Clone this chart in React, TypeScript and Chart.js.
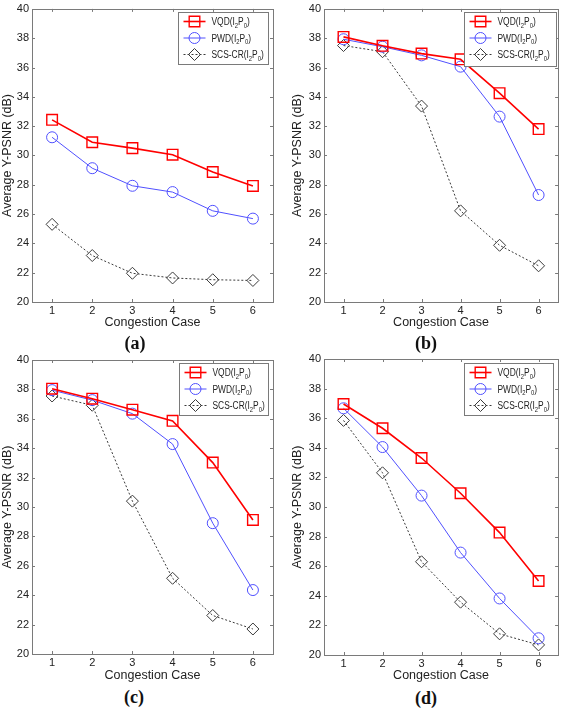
import React, { useEffect, useRef } from "react";
import { Chart, registerables } from "chart.js";

Chart.register(...registerables);

// ---------- data ----------
const cases = ["1", "2", "3", "4", "5", "6"];
const yTicks = [20, 22, 24, 26, 28, 30, 32, 34, 36, 38, 40];
const seriesNames = ["VQD(I₂P₀)", "PWD(I₂P₀)", "SCS-CR(I₂P₀)"];
const xTitle = "Congestion Case";
const yTitle = "Average Y-PSNR (dB)";
const captions = ["(a)", "(b)", "(c)", "(d)"];

const vqdA = [32.43, 30.9, 30.5, 30.05, 28.87, 27.92];
const pwdA = [31.24, 29.13, 27.93, 27.5, 26.22, 25.69];
const scsA = [25.3, 23.17, 21.96, 21.64, 21.52, 21.47];

const vqdB = [38.09, 37.48, 36.95, 36.56, 34.25, 31.8];
const pwdB = [37.93, 37.42, 36.83, 36.06, 32.65, 27.3];
const scsB = [37.5, 37.08, 33.37, 26.22, 23.87, 22.47];

const vqdC = [38.05, 37.37, 36.62, 35.86, 33.02, 29.12];
const pwdC = [37.95, 37.27, 36.35, 34.28, 28.9, 24.35];
const scsC = [37.55, 36.92, 30.4, 25.15, 22.62, 21.7];

const vqdD = [36.96, 35.32, 33.31, 30.93, 28.27, 25.0];
const pwdD = [36.67, 34.05, 30.77, 26.92, 23.82, 21.13];
const scsD = [35.85, 32.31, 26.3, 23.57, 21.43, 20.68];

// ---------- styles ----------
const FONT = "'Liberation Sans', Arial, Helvetica, sans-serif";
const TEXT = "#222";
const AXIS = "#7a7a7a";
const RED = "#ff0000";
const BLUE = "#5050ff";
const GRAY = "#3a3a3a";

function drawMarker(ctx: CanvasRenderingContext2D, style: string, r: number, x: number, y: number) {
  ctx.beginPath();
  if (style === "rect") {
    const s = Math.SQRT1_2 * r;
    ctx.rect(x - s, y - s, 2 * s, 2 * s);
  } else if (style === "circle") {
    ctx.arc(x, y, r, 0, Math.PI * 2);
  } else {
    ctx.moveTo(x, y - r);
    ctx.lineTo(x + r, y);
    ctx.lineTo(x, y + r);
    ctx.lineTo(x - r, y);
    ctx.closePath();
  }
  ctx.stroke();
}

const framePlugin = {
  id: "matlabFrame",
  afterDatasetsDraw(chart: any) {
    const { ctx, chartArea, scales } = chart;
    const { left, right, top, bottom } = chartArea;
    ctx.save();
    ctx.strokeStyle = AXIS;
    ctx.lineWidth = 1;
    ctx.setLineDash([]);
    ctx.strokeRect(Math.round(left) + 0.5, Math.round(top) + 0.5, Math.round(right - left), Math.round(bottom - top));
    const tl = 3;
    const xs = scales.x;
    ctx.beginPath();
    for (let i = 0; i < xs.ticks.length; i++) {
      const px = Math.round(xs.getPixelForTick(i)) + 0.5;
      ctx.moveTo(px, bottom);
      ctx.lineTo(px, bottom - tl);
      ctx.moveTo(px, top);
      ctx.lineTo(px, top + tl);
    }
    const ys = scales.y;
    for (let i = 0; i < ys.ticks.length; i++) {
      const py = Math.round(ys.getPixelForTick(i)) + 0.5;
      ctx.moveTo(left, py);
      ctx.lineTo(left + tl, py);
      ctx.moveTo(right, py);
      ctx.lineTo(right - tl, py);
    }
    ctx.stroke();
    ctx.restore();
  },
};

const legendPlugin = {
  id: "matlabLegend",
  afterDatasetsDraw(chart: any, _args: any, opts: any) {
    const { ctx, chartArea } = chart;
    const w = opts.width;
    const h = opts.height;
    const x0 = Math.round(chartArea.right - opts.marginRight - w) + 0.5;
    const y0 = Math.round(chartArea.top + opts.marginTop) + 0.5;
    ctx.save();
    ctx.fillStyle = "#fff";
    ctx.fillRect(x0, y0, w, h);
    ctx.strokeStyle = AXIS;
    ctx.lineWidth = 1;
    ctx.strokeRect(x0, y0, w, h);
    chart.data.datasets.forEach((ds: any, i: number) => {
      const y = y0 + 9 + i * 16.5;
      ctx.strokeStyle = ds.borderColor;
      ctx.lineWidth = ds.borderWidth;
      ctx.setLineDash(ds.borderDash || []);
      ctx.beginPath();
      ctx.moveTo(x0 + 5, y);
      ctx.lineTo(x0 + 27, y);
      ctx.stroke();
      ctx.setLineDash([]);
      ctx.lineWidth = ds.pointBorderWidth;
      drawMarker(ctx, ds.pointStyle, ds.pointRadius, x0 + 16, y);
      // text with subscripts (horizontally condensed like the original)
      const label: string = ds.label;
      const name = label.split("(")[0];
      const parts: [string, boolean][] = [
        [name + "(I", false],
        ["2", true],
        ["P", false],
        ["0", true],
        [")", false],
      ];
      ctx.save();
      ctx.translate(x0 + 33, y);
      ctx.scale(0.84, 1);
      let tx = 0;
      ctx.fillStyle = TEXT;
      ctx.textBaseline = "alphabetic";
      ctx.textAlign = "left";
      for (const [t, sub] of parts) {
        ctx.font = sub ? `7px ${FONT}` : `10px ${FONT}`;
        ctx.fillText(t, tx, sub ? 6 : 3.5);
        tx += ctx.measureText(t).width;
      }
      ctx.restore();
    });
    ctx.restore();
  },
};

type PanelProps = {
  left: number;
  top: number;
  width: number;
  height: number;
  padTop: number;
  padRight: number;
  yAxisW: number;
  xAxisH: number;
  vqd: number[];
  pwd: number[];
  scs: number[];
  legend: { width: number; height: number; marginRight: number; marginTop: number };
};

function Panel(p: PanelProps) {
  const ref = useRef<HTMLCanvasElement>(null);
  useEffect(() => {
    if (!ref.current) return;
    const chart = new Chart(ref.current, {
      type: "line",
      data: {
        labels: cases,
        datasets: [
          {
            label: seriesNames[0],
            data: p.vqd,
            borderColor: RED,
            borderWidth: 1.6,
            pointStyle: "rect",
            pointRadius: 7.5,
            pointBorderWidth: 1.4,
            pointBackgroundColor: "rgba(0,0,0,0)",
            pointBorderColor: RED,
            tension: 0,
          },
          {
            label: seriesNames[1],
            data: p.pwd,
            borderColor: BLUE,
            borderWidth: 1,
            pointStyle: "circle",
            pointRadius: 5.5,
            pointBorderWidth: 1,
            pointBackgroundColor: "rgba(0,0,0,0)",
            pointBorderColor: BLUE,
            tension: 0,
          },
          {
            label: seriesNames[2],
            data: p.scs,
            borderColor: GRAY,
            borderWidth: 1,
            borderDash: [2, 2],
            pointStyle: "rectRot",
            pointRadius: 6,
            pointBorderWidth: 1,
            pointBackgroundColor: "rgba(0,0,0,0)",
            pointBorderColor: GRAY,
            tension: 0,
          },
        ] as any,
      },
      options: {
        animation: false,
        responsive: false,
        devicePixelRatio: 1,
        events: [],
        layout: { padding: { top: p.padTop, right: p.padRight, left: 0, bottom: 0 } },
        plugins: {
          legend: { display: false },
          tooltip: { enabled: false },
          matlabLegend: p.legend,
        } as any,
        scales: {
          x: {
            type: "category",
            offset: true,
            grid: { display: false, drawTicks: false },
            border: { display: false },
            ticks: { font: { family: FONT, size: 11 }, color: TEXT, padding: 2, maxRotation: 0, autoSkip: false },
            title: { display: true, text: xTitle, font: { family: FONT, size: 12.5 }, color: TEXT, padding: 0 },
            afterFit: (s: any) => {
              s.height = p.xAxisH;
              s.paddingLeft = 0;
              s.paddingRight = 0;
            },
          },
          y: {
            type: "linear",
            min: 20,
            max: 40,
            grid: { display: false, drawTicks: false },
            border: { display: false },
            ticks: { font: { family: FONT, size: 11 }, color: TEXT, padding: 3 },
            afterBuildTicks: (s: any) => {
              s.ticks = yTicks.map((v) => ({ value: v }));
            },
            title: { display: true, text: yTitle, font: { family: FONT, size: 12.5 }, color: TEXT, padding: 0 },
            afterFit: (s: any) => {
              s.width = p.yAxisW;
              s.paddingTop = 0;
              s.paddingBottom = 0;
            },
          },
        },
      },
      plugins: [framePlugin, legendPlugin],
    });
    return () => chart.destroy();
  }, []);
  return (
    <canvas
      ref={ref}
      width={p.width}
      height={p.height}
      style={{ position: "absolute", left: p.left, top: p.top, width: p.width, height: p.height }}
    />
  );
}

function Caption({ text, x, y }: { text: string; x: number; y: number }) {
  return (
    <div
      style={{
        position: "absolute",
        left: x - 30,
        top: y - 11,
        width: 60,
        height: 22,
        lineHeight: "22px",
        textAlign: "center",
        fontFamily: "'Liberation Serif', 'Times New Roman', serif",
        fontWeight: "bold",
        fontSize: 18,
        color: "#111",
      }}
    >
      {text}
    </div>
  );
}

export default function App() {
  return (
    <div style={{ position: "absolute", left: 0, top: 0, width: 567, height: 708, background: "#fff", overflow: "hidden" }}>
      <Panel
        left={0}
        top={0}
        width={283}
        height={330}
        padTop={5}
        padRight={10}
        yAxisW={32}
        xAxisH={28}
        vqd={vqdA}
        pwd={pwdA}
        scs={scsA}
        legend={{ width: 90, height: 52, marginRight: 5, marginTop: 3 }}
      />
      <Panel
        left={290}
        top={0}
        width={277}
        height={330}
        padTop={5}
        padRight={3}
        yAxisW={34}
        xAxisH={28}
        vqd={vqdB}
        pwd={pwdB}
        scs={scsB}
        legend={{ width: 92, height: 54, marginRight: 2, marginTop: 3 }}
      />
      <Panel
        left={0}
        top={350}
        width={283}
        height={333}
        padTop={10}
        padRight={10}
        yAxisW={32}
        xAxisH={29}
        vqd={vqdC}
        pwd={pwdC}
        scs={scsC}
        legend={{ width: 89, height: 52, marginRight: 5, marginTop: 3 }}
      />
      <Panel
        left={290}
        top={350}
        width={277}
        height={333}
        padTop={9}
        padRight={3}
        yAxisW={34}
        xAxisH={28}
        vqd={vqdD}
        pwd={pwdD}
        scs={scsD}
        legend={{ width: 89, height: 52, marginRight: 5, marginTop: 4 }}
      />
      <Caption text={captions[0]} x={135} y={343} />
      <Caption text={captions[1]} x={426} y={343} />
      <Caption text={captions[2]} x={134} y={697} />
      <Caption text={captions[3]} x={426} y={698} />
    </div>
  );
}
